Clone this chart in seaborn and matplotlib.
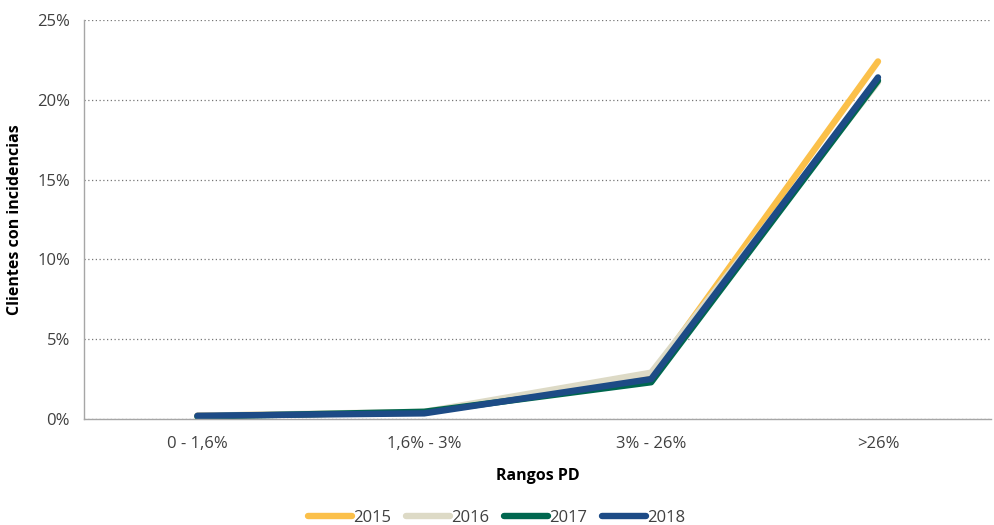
import matplotlib
matplotlib.use("Agg")
import matplotlib.pyplot as plt
import seaborn as sns
import pandas as pd
from matplotlib.ticker import FuncFormatter

categories = ["0 - 1,6%", "1,6% - 3%", "3% - 26%", ">26%"]
years = ["2015", "2016", "2017", "2018"]
v2015 = [0.2, 0.4, 2.7, 22.4]
v2016 = [0.2, 0.45, 2.9, 21.1]
v2017 = [0.15, 0.45, 2.3, 21.2]
v2018 = [0.2, 0.35, 2.5, 21.4]
colors = ["#FBC04A", "#DDDAC6", "#00674F", "#1D4B86"]

rows = []
for y, vals in zip(years, [v2015, v2016, v2017, v2018]):
    for c, v in zip(categories, vals):
        rows.append({"Rango": c, "Valor": v, "Año": y})
df = pd.DataFrame(rows)

sns.set_theme(style="white")
plt.rcParams["font.family"] = ["Open Sans", "DejaVu Sans"]

fig = plt.figure(figsize=(9.95, 5.25), dpi=100)
ax = fig.add_axes([0.0844, 0.202, 0.912, 0.76])

sns.lineplot(data=df, x="Rango", y="Valor", hue="Año", palette=colors,
             linewidth=4.6, ax=ax, sort=False, solid_capstyle="round")

ax.set_xlim(-0.5, 3.5)
ax.set_ylim(0, 25)
ax.set_yticks([0, 5, 10, 15, 20, 25])
ax.yaxis.set_major_formatter(FuncFormatter(lambda v, p: f"{int(v)}%"))
ax.grid(axis="y", linestyle=(0, (1, 2)), color="#777777", linewidth=0.9)
ax.set_axisbelow(True)
for s in ["top", "right"]:
    ax.spines[s].set_visible(False)
for s in ["left", "bottom"]:
    ax.spines[s].set_color("#A6A6A6")
    ax.spines[s].set_linewidth(1.0)
ax.tick_params(axis="both", labelsize=12, colors="#404040", length=0, pad=10)
ax.tick_params(axis="x", pad=12)
ax.set_xlabel("Rangos PD", fontsize=11.5, fontweight="bold", color="black", labelpad=12)
ax.set_ylabel("Clientes con incidencias", fontsize=11.5, fontweight="bold", color="black", labelpad=10)

handles, labels = ax.get_legend_handles_labels()
leg = ax.legend(handles, labels, loc="upper center", bbox_to_anchor=(0.455, -0.19),
                ncol=4, frameon=False, fontsize=12, handlelength=2.6,
                handletextpad=0.1, columnspacing=0.9)
for t in leg.get_texts():
    t.set_color("#404040")

fig.savefig("out.png", dpi=100)
